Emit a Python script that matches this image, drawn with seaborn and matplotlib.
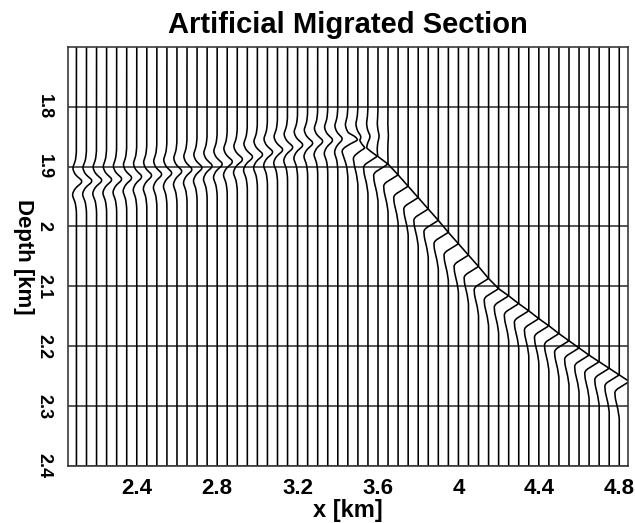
import numpy as np
import pandas as pd
import matplotlib
matplotlib.use("Agg")
import matplotlib.pyplot as plt
import seaborn as sns

# ---------------- data ----------------
trace_spacing = 0.05
trace_x = np.round(np.arange(2.10, 4.8001, trace_spacing), 2)   # 55 traces

# flat (gently rising) reflector, traces 2.10 .. 3.65 : depth of wavelet centre
flat_x = np.round(np.arange(2.10, 3.6501, trace_spacing), 2)
flat_depth = [1.925, 1.924, 1.923, 1.922, 1.921, 1.919, 1.917, 1.915,
              1.913, 1.911, 1.908, 1.905, 1.902, 1.899, 1.896, 1.892,
              1.888, 1.884, 1.880, 1.876, 1.872, 1.868, 1.864, 1.861,
              1.858, 1.856, 1.854, 1.852, 1.851, 1.850, 1.849, 1.848]
flat_amp = [0.80, 0.80, 0.78, 0.76, 0.75, 0.74, 0.73, 0.72,
            0.72, 0.72, 0.72, 0.73, 0.74, 0.75, 0.76, 0.77,
            0.78, 0.78, 0.78, 0.78, 0.78, 0.78, 0.77, 0.76,
            0.75, 0.72, 0.66, 0.56, 0.44, 0.30, 0.16, 0.05]
flat_wav_dz = [-0.050, -0.035, -0.022, -0.011, 0.000, 0.011, 0.022, 0.035, 0.050]
flat_wav_a = [0.00, -0.12, -0.50, -0.15, 0.85, -0.15, -0.55, -0.15, 0.00]

# dipping reflector, traces 3.45 .. 4.80 : depth where each trace's peak
# touches the next trace
dip_x = np.round(np.arange(3.45, 4.8001, trace_spacing), 2)
dip_depth = [1.856, 1.869, 1.883, 1.896, 1.914, 1.933, 1.952, 1.971,
             1.990, 2.010, 2.029, 2.048, 2.067, 2.087, 2.104, 2.116,
             2.129, 2.141, 2.154, 2.166, 2.179, 2.191, 2.203, 2.215,
             2.226, 2.237, 2.248, 2.259]
dip_amp = [0.7, 0.9, 1.0, 1.0, 1.0, 1.0, 1.0, 1.0,
           1.0, 1.0, 1.0, 1.0, 1.0, 1.0, 1.0, 1.0,
           1.0, 1.0, 1.0, 1.0, 1.0, 1.0, 1.0, 1.0,
           1.0, 1.0, 1.0, 1.0]
# wavelet key points below the peak: peak, trough, slow return
dip_key_dz = [0.000, 0.015, 0.028, 0.042, 0.060]
dip_key_a = [1.00, -0.45, -0.40, -0.18, 0.00]

yticks = [1.8, 1.9, 2.0, 2.1, 2.2, 2.3, 2.4]
ytick_labels = ["1.8", "1.9", "2", "2.1", "2.2", "2.3", "2.4"]
xticks = [2.4, 2.8, 3.2, 3.6, 4.0, 4.4, 4.8]
xtick_labels = ["2.4", "2.8", "3.2", "3.6", "4", "4.4", "4.8"]

# ---------------- build traces ----------------
depth = np.round(np.arange(1.700, 2.4001, 0.001), 4)
rows = []
flat_lookup = {round(x, 2): i for i, x in enumerate(flat_x)}
dip_lookup = {round(x, 2): i for i, x in enumerate(dip_x)}
for x0 in trace_x:
    k = round(float(x0), 2)
    off_flat = np.zeros_like(depth)
    off_dip = np.zeros_like(depth)
    if k in flat_lookup:
        i = flat_lookup[k]
        off_flat = flat_amp[i] * np.interp(depth - flat_depth[i], flat_wav_dz, flat_wav_a, left=0, right=0)
        off_flat = np.convolve(off_flat, np.ones(9) / 9, mode="same")
    if k in dip_lookup:
        i = dip_lookup[k]
        dp = dip_depth[i]
        dstart = dip_depth[i - 1] if i > 0 else dp - 0.012
        kd = [dstart] + [dp + dz for dz in dip_key_dz]
        ka = [0.0] + dip_key_a
        off_dip = dip_amp[i] * np.interp(depth, kd, ka, left=0, right=0)
        sm = np.convolve(off_dip, np.ones(9) / 9, mode="same")
        off_dip = np.where(depth > dp + 0.010, sm, np.convolve(off_dip, np.ones(3) / 3, mode="same"))
    xs = x0 + trace_spacing * (off_flat + off_dip)
    for d, xv in zip(depth, xs):
        rows.append((k, xv, d))
df = pd.DataFrame(rows, columns=["trace", "x", "depth"])

# ---------------- plot ----------------
sns.set_theme(style="white")
plt.rcParams["font.family"] = ["Liberation Sans", "DejaVu Sans"]
for key in ["text.color", "axes.labelcolor", "xtick.color", "ytick.color"]:
    plt.rcParams[key] = "black"

fig = plt.figure(figsize=(6.35, 5.23), dpi=100)
ax = fig.add_axes([0.1071, 0.1090, 0.8814, 0.8017])

for yv in yticks:
    ax.axhline(yv, color="#3a3a3a", lw=1.2, zorder=1)

sns.lineplot(data=df, x="x", y="depth", units="trace", estimator=None,
             sort=False, orient="y", color="black", lw=1.15, ax=ax, zorder=2)

ax.set_xlim(2.058, 4.842)
ax.set_ylim(2.4, 1.7)
ax.set_xticks(xticks)
ax.set_xticklabels(xtick_labels, fontsize=16, fontweight="bold")
ax.set_yticks(yticks)
ax.set_yticklabels(ytick_labels, fontsize=13, fontweight="bold", rotation=-90, va="center")
ax.tick_params(axis="both", direction="out", length=6, width=1, color="#3a3a3a")
ax.tick_params(axis="x", pad=3)
ax.tick_params(axis="y", pad=5)
ax.set_xlabel("x [km]", fontsize=17, fontweight="bold", labelpad=0)
ax.set_ylabel("Depth [km]", fontsize=16, fontweight="bold", rotation=-90, labelpad=9, va="center")
ax.set_title("Artificial Migrated Section", fontsize=21, fontweight="bold", pad=10)
for s in ax.spines.values():
    s.set_color("#3a3a3a")
    s.set_linewidth(1.2)

fig.savefig("out.png", dpi=100)
